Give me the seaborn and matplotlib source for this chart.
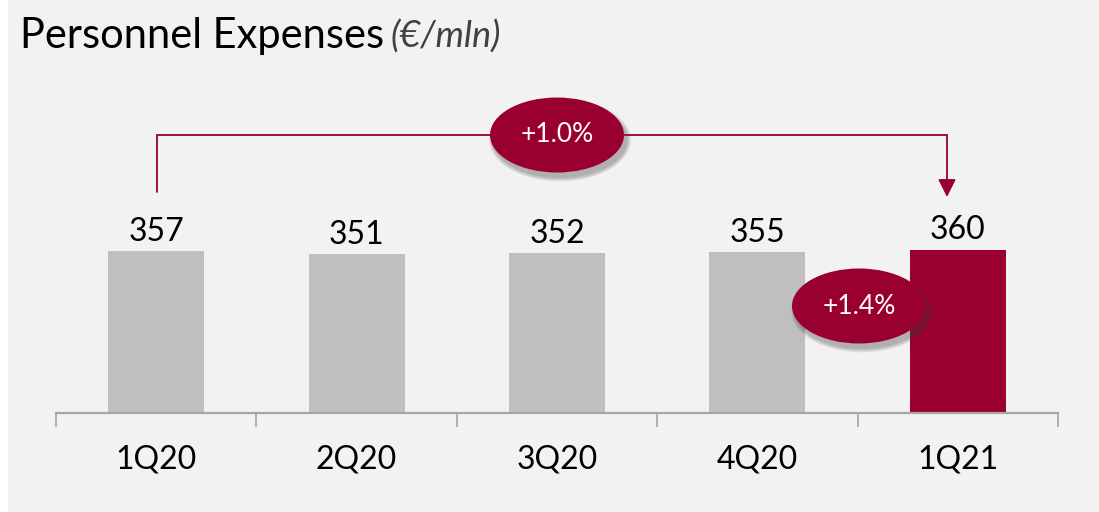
import matplotlib
matplotlib.use("Agg")
import matplotlib.pyplot as plt
from matplotlib.patches import Ellipse
import seaborn as sns
import pandas as pd

# ---- data ----
quarters = ["1Q20", "2Q20", "3Q20", "4Q20", "1Q21"]
expenses = [357, 351, 352, 355, 360]
bar_colors = ["#bfbfbf", "#bfbfbf", "#bfbfbf", "#bfbfbf", "#990030"]
yoy_label = "+1.0%"
qoq_label = "+1.4%"
title_main = "Personnel Expenses"
title_unit = "(€/mln)"

BG = "#f2f2f2"
RED = "#990030"
AX_GRAY = "#a6a6a6"

sns.set_theme(style="white")
plt.rcParams["font.family"] = ["Lato", "DejaVu Sans"]

W, H = 1099, 512
fig = plt.figure(figsize=(W / 100, H / 100), dpi=100)
fig.patch.set_facecolor("white")
fig.patches.append(plt.Rectangle((8 / W, 0), 1, 1, transform=fig.transFigure,
                                 facecolor=BG, edgecolor="none", zorder=-10))

base_px = 413
left_px, right_px = 56, 1058
ax = fig.add_axes([left_px / W, (H - base_px) / H, (right_px - left_px) / W, base_px / H])
ax.set_facecolor("none")

df = pd.DataFrame({"quarter": quarters, "value": expenses})
sns.barplot(data=df, x="quarter", y="value", hue="quarter", palette=bar_colors,
            width=0.48, legend=False, ax=ax, saturation=1, linewidth=0)

px_per_unit = 162 / 357.0
ymax = base_px / px_per_unit
ax.set_ylim(0, ymax)
ax.set_xlim(-0.5, len(quarters) - 0.5)
px_per_cat = (right_px - left_px) / len(quarters)

def ypx(p):
    return (base_px - p) / px_per_unit

def xpx(p):
    return (p - left_px) / px_per_cat - 0.5

for s in ["top", "right", "left"]:
    ax.spines[s].set_visible(False)
ax.spines["bottom"].set_color(AX_GRAY)
ax.spines["bottom"].set_linewidth(1.6)
ax.set_yticks([])
ax.set_xlabel("")
ax.set_ylabel("")

ax.set_xticks([i - 0.5 for i in range(len(quarters) + 1)])
ax.set_xticklabels([])
ax.tick_params(axis="x", which="major", direction="out", length=10, width=1.2,
               color=AX_GRAY, bottom=True)
ax.set_xticks(range(len(quarters)), minor=True)
ax.set_xticklabels(quarters, minor=True, fontsize=23, color="black")
ax.tick_params(axis="x", which="minor", length=0, pad=23)

for i, v in enumerate(expenses):
    ax.annotate(f"{v}", (i, v), xytext=(0, 3), textcoords="offset points",
                ha="center", va="bottom", fontsize=23, color="black")

# bracket 1Q20 -> 1Q21
yb = ypx(135)
x0 = xpx(157)
x1 = xpx(947)
ax.plot([x0, x0, x1], [ypx(192), yb, yb], color=RED, lw=1.3, clip_on=False,
        solid_joinstyle="miter")
ax.annotate("", xy=(x1, ypx(197)), xytext=(x1, yb),
            arrowprops=dict(arrowstyle="-|>,head_length=0.9,head_width=0.45",
                            color=RED, lw=1.3, shrinkA=0, shrinkB=0),
            annotation_clip=False)

def bubble(cx_px, cy_px, w_px, h_px, text):
    for k in range(6):
        grow = 8 - k * 1.5
        sh = Ellipse((xpx(cx_px + 3), ypx(cy_px + 5)), (w_px + grow) / px_per_cat,
                     (h_px + grow) / px_per_unit, facecolor="#404040", alpha=0.07,
                     edgecolor="none", clip_on=False, zorder=4)
        ax.add_patch(sh)
    e = Ellipse((xpx(cx_px), ypx(cy_px)), w_px / px_per_cat, h_px / px_per_unit,
                facecolor=RED, edgecolor="none", clip_on=False, zorder=5)
    ax.add_patch(e)
    ax.text(xpx(cx_px), ypx(cy_px), text, ha="center", va="center", color="white",
            fontsize=19, zorder=6, clip_on=False)

bubble(557, 135, 134, 75, yoy_label)
bubble(859, 306, 134, 75, qoq_label)

t1 = fig.text(20 / W, 1 - 48 / H, title_main, fontsize=30, color="black",
              ha="left", va="baseline")
fig.canvas.draw()
bb = t1.get_window_extent()
fig.text((bb.x1 + 6) / W, 1 - 48 / H, title_unit, fontsize=26, style="italic",
         color="#404040", ha="left", va="baseline")

fig.savefig("out.png", dpi=100, facecolor=fig.get_facecolor())
